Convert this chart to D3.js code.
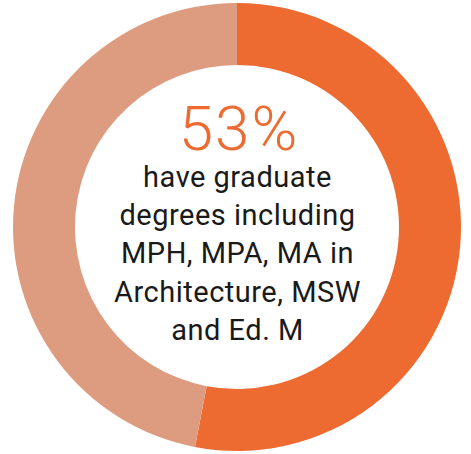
<!DOCTYPE html>
<html>
<head>
<meta charset="utf-8">
<script src="https://cdn.jsdelivr.net/npm/d3@7"></script>
<style>
  html, body { margin: 0; padding: 0; background: #fff; }
  svg { display: block; }
</style>
</head>
<body>
<svg id="donut-chart"></svg>
<script>
// share of graduates with a graduate degree
let categories = ["Graduate degree", "Other"]
let values = [53, 47]
let colors = ["#ed6a30", "#dd9c80"]
let headline = "53%"
let caption = ["have graduate", "degrees including", "MPH, MPA, MA in", "Architecture, MSW", "and Ed. M"]

let width = 471, height = 454
let svgDonut = d3.select("#donut-chart")
    .attr("width", width)
    .attr("height", height)

let cx = 237, cy = 227
let outerR = 224, innerR = 162

let pie = d3.pie()
    .sort(null)
    .value(d => d.value)

let arc = d3.arc()
    .innerRadius(innerR)
    .outerRadius(outerR)

let data = categories.map((c, i) => ({ category: c, value: values[i], color: colors[i] }))

let g = svgDonut.append("g")
    .attr("transform", `translate(${cx},${cy})`)

g.selectAll(".slice")
    .data(pie(data))
    .join("path")
    .attr("class", "slice")
    .attr("d", arc)
    .style("fill", d => d.data.color)

// big number
g.append("text")
    .attr("text-anchor", "middle")
    .attr("x", 2)
    .attr("y", 150 - cy)
    .style("font-family", "Roboto, sans-serif")
    .style("font-weight", 300)
    .style("font-size", "62px")
    .style("letter-spacing", "2px")
    .style("fill", colors[0])
    .text(headline)

// caption lines
let firstBaseline = 187, lineHeight = 38.2
g.selectAll(".caption")
    .data(caption)
    .join("text")
    .attr("class", "caption")
    .attr("text-anchor", "middle")
    .attr("x", 0.5)
    .attr("y", (d, i) => firstBaseline + i * lineHeight - cy)
    .style("font-family", "Roboto, sans-serif")
    .style("font-weight", 400)
    .style("font-size", "29px")
    .style("letter-spacing", "0.5px")
    .style("fill", "#1a1a1a")
    .text(d => d)
</script>
</body>
</html>
